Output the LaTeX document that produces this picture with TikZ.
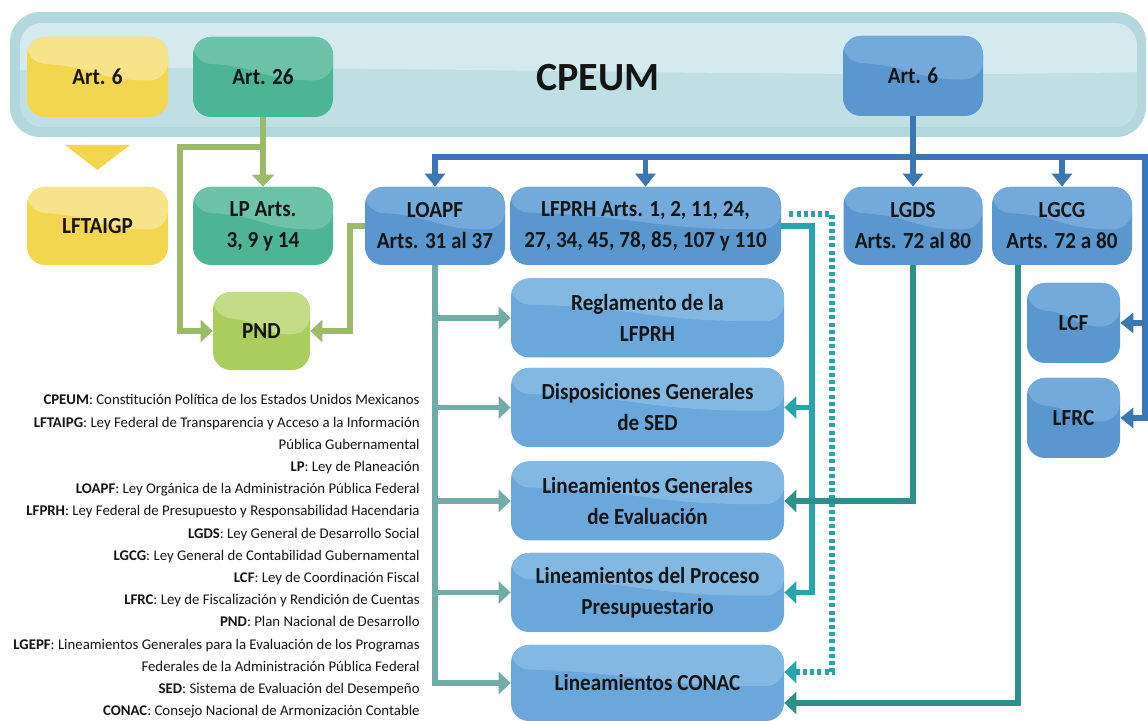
\documentclass[tikz,border=0pt]{standalone}
\usepackage{fontspec}
\setmainfont{Carlito}
\newfontfamily\boxfnt{Carlito}[FakeStretch=0.92]
\usetikzlibrary{arrows.meta,calc}
\definecolor{cband}{HTML}{B2D7DD}
\definecolor{cbandhi}{HTML}{D5EAEE}
\definecolor{cbandlo}{HTML}{C0DFE4}
\definecolor{cyel}{HTML}{F3D64F}
\definecolor{cyelhi}{HTML}{F7E38A}
\definecolor{cgrn}{HTML}{4DB495}
\definecolor{cgrnhi}{HTML}{6CC3A7}
\definecolor{cpnd}{HTML}{AACD5E}
\definecolor{cpndhi}{HTML}{C3DC86}
\definecolor{cbox}{HTML}{5A97CF}
\definecolor{cboxhi}{HTML}{74AADB}
\definecolor{cmid}{HTML}{6AA7DB}
\definecolor{cmidhi}{HTML}{83B8E3}
\definecolor{cbl}{HTML}{3A77B3}
\definecolor{cgl}{HTML}{9BBB6A}
\definecolor{ctl}{HTML}{72ABA7}
\definecolor{cbt}{HTML}{28A4AB}
\definecolor{ckt}{HTML}{2E8F88}
\definecolor{ctxt}{HTML}{151515}
\newcommand\bxfont{\boxfnt\fontsize{11.5}{15.5}\selectfont\bfseries}
\newcommand\lgfont{\fontsize{7.4}{9}\selectfont}
\tikzset{
  gbox/.style 2 args={rounded corners=9pt, fill=#1, align=center, font=\bxfont,
    text=ctxt, inner sep=0pt,
    path picture={\fill[#2] (path picture bounding box.north west) --
      (path picture bounding box.north east) --
      ($(path picture bounding box.east)+(0,3)$) .. controls
      ($(path picture bounding box.center)+(0,4)$) and
      ($(path picture bounding box.center)+(0,-10)$) ..
      ($(path picture bounding box.west)+(0,-14)$) -- cycle;}},
  sz/.style 2 args={minimum width=#1*0.5pt, minimum height=#2*0.5pt},
  ybox/.style={gbox={cyel}{cyelhi}},
  grbox/.style={gbox={cgrn}{cgrnhi}},
  pbox/.style={gbox={cpnd}{cpndhi}},
  bbox/.style={gbox={cbox}{cboxhi}},
  mbox/.style={gbox={cmid}{cmidhi}, sz={273}{79}},
  tipb/.tip={Triangle[width=10pt,length=6.5pt]},
  tipc/.tip={Triangle[width=11pt,length=6pt]},
  bl/.style={draw=cbl, line width=2.6pt, line join=miter},
  gl/.style={draw=cgl, line width=3pt, line join=miter, -tipc},
  tl/.style={draw=ctl, line width=2.8pt, line join=miter, -tipc},
  cl/.style={draw=cbt, line width=2.6pt, line join=miter, -tipc},
  dl/.style={draw=cbt, line width=2.6pt, dash pattern=on 2pt off 1.6pt, -tipc},
  kl/.style={draw=ckt, line width=2.6pt, line join=miter, -tipc},
  lg/.style={anchor=base east, font=\lgfont, text=ctxt, inner sep=0pt},
}
\begin{document}
\begin{tikzpicture}[x=0.5pt,y=-0.5pt]
\useasboundingbox[fill=white] (0,0) rectangle (1148,721);
% CPEUM band
\fill[cband, rounded corners=15pt] (10,12) rectangle (1146,137);
\begin{scope}
  \clip[rounded corners=11pt] (20,23) rectangle (1137,127);
  \fill[cbandlo] (20,23) rectangle (1137,127);
  \fill[cbandhi] (20,23) -- (1137,23) -- (1137,72) .. controls (800,80) and (300,62) .. (20,70) -- cycle;
\end{scope}
\node[font=\fontsize{20}{24}\selectfont\bfseries, text=ctxt] (cpeum) at (598,78) {CPEUM};

% top boxes
\node[ybox, sz={141}{80}] (y6) at (97.5,77) {Art. 6};
\node[grbox, sz={140}{80}] (a26) at (263,77) {Art. 26};
\node[bbox, sz={140}{80}] (b6) at (913,76) {Art. 6};

% yellow triangle
\fill[cyel] (65,145) -- (130,145) -- (97.5,170) -- cycle;

% second row
\node[ybox, sz={141}{78}] (lft) at (97.5,226) {LFTAIGP};
\node[grbox, sz={140}{78}] (lp) at (263,226) {LP Arts.\\3, 9 y 14};
\node[bbox, sz={140}{78}] (loapf) at (435,226) {LOAPF\\Arts. 31 al 37};
\node[bbox, sz={271}{78}] (lfprh) at (645.5,226) {LFPRH Arts. 1, 2, 11, 24,\\27, 34, 45, 78, 85, 107 y 110};
\node[bbox, sz={139}{78}] (lgds) at (913,226) {LGDS\\Arts. 72 al 80};
\node[bbox, sz={140}{78}] (lgcg) at (1062,226) {LGCG\\Arts. 72 a 80};

\node[pbox, sz={97}{78}] (pnd) at (261.5,331) {PND};
\node[bbox, sz={93}{80}] (lcf) at (1073.5,323) {LCF};
\node[bbox, sz={93}{80}] (lfrc) at (1073.5,418) {LFRC};

% middle column
\node[mbox] (regl) at (647.5,318) {Reglamento de la\\LFPRH};
\node[mbox] (disp) at (647.5,407.5) {Disposiciones Generales\\de SED};
\node[mbox] (lge) at (647.5,501) {Lineamientos Generales\\de Evaluación};
\node[mbox] (lpp) at (647.5,592.5) {Lineamientos del Proceso\\Presupuestario};
\node[mbox, sz={273}{76}] (cona) at (647.5,683) {Lineamientos CONAC};

% blue connectors
\coordinate (bL) at (435,157);
\coordinate (bR) at (1145,157);
\draw[bl, -tipb] (b6.south) -- (lgds.north);
\draw[bl, tipb-tipb] (lfrc.east) -- (bR |- lfrc.east) -- (bR) -- (bL) -- (loapf.north);
\draw[bl, -tipb] (bR |- lcf.east) -- (lcf.east);
\draw[bl, -tipb] (lfprh.north |- bL) -- (lfprh.north);
\draw[bl, -tipb] (lgcg.north |- bL) -- (lgcg.north);

% green connectors
\coordinate (g1) at (263,147);
\coordinate (g2) at (180,147);
\coordinate (g3) at (350,0);
\draw[gl] (a26.south) -- (lp.north);
\draw[gl] (g1) -- (g2) -- (g2 |- pnd.west) -- (pnd.west);
\draw[gl] (loapf.west) -- (g3 |- loapf.west) -- (g3 |- pnd.east) -- (pnd.east);

% teal connectors from LOAPF
\draw[tl] (loapf.south) -- (loapf.south |- cona.west) -- (cona.west);
\draw[tl] (loapf.south |- regl.west) -- (regl.west);
\draw[tl] (loapf.south |- disp.west) -- (disp.west);
\draw[tl] (loapf.south |- lge.west) -- (lge.west);
\draw[tl] (loapf.south |- lpp.west) -- (lpp.west);

% bright teal from LFPRH
\coordinate (c1) at (812,0);
\draw[cl] (lfprh.east) -- (c1 |- lfprh.east) -- (c1 |- lpp.east) -- (lpp.east);
\draw[cl] (c1 |- disp.east) -- (disp.east);

% dotted from LFPRH
\coordinate (ds) at ($(lfprh.east)+(8,-12)$);
\coordinate (d1) at (832,672);
\draw[dl] (ds) -- (d1 |- ds) -- (d1) -- (cona.east |- d1);

% dark teal from LGDS and LGCG
\coordinate (k1) at (1018,703);
\draw[kl] (lgds.south) -- (lgds.south |- lge.east) -- (lge.east);
\draw[kl] (k1 |- lgcg.south) -- (k1) -- (cona.east |- k1);

% legend
\node[lg] (l1) at (420,405) {\textbf{CPEUM}: Constitución Política de los Estados Unidos Mexicanos};
\node[lg] (l2) at (420,427.2) {\textbf{LFTAIPG}: Ley Federal de Transparencia y Acceso a la Información};
\node[lg] (l3) at (420,449.4) {Pública Gubernamental};
\node[lg] (l4) at (420,471.6) {\textbf{LP}: Ley de Planeación};
\node[lg] (l5) at (420,493.8) {\textbf{LOAPF}: Ley Orgánica de la Administración Pública Federal};
\node[lg] (l6) at (420,516) {\textbf{LFPRH}: Ley Federal de Presupuesto y Responsabilidad Hacendaria};
\node[lg] (l7) at (420,538.2) {\textbf{LGDS}: Ley General de Desarrollo Social};
\node[lg] (l8) at (420,560.4) {\textbf{LGCG}: Ley General de Contabilidad Gubernamental};
\node[lg] (l9) at (420,582.6) {\textbf{LCF}: Ley de Coordinación Fiscal};
\node[lg] (l10) at (420,604.8) {\textbf{LFRC}: Ley de Fiscalización y Rendición de Cuentas};
\node[lg] (l11) at (420,627) {\textbf{PND}: Plan Nacional de Desarrollo};
\node[lg] (l12) at (420,649.2) {\textbf{LGEPF}: Lineamientos Generales para la Evaluación de los Programas};
\node[lg] (l13) at (420,671.4) {Federales de la Administración Pública Federal};
\node[lg] (l14) at (420,693.6) {\textbf{SED}: Sistema de Evaluación del Desempeño};
\node[lg] (l15) at (420,715.8) {\textbf{CONAC}: Consejo Nacional de Armonización Contable};
\end{tikzpicture}
\end{document}
